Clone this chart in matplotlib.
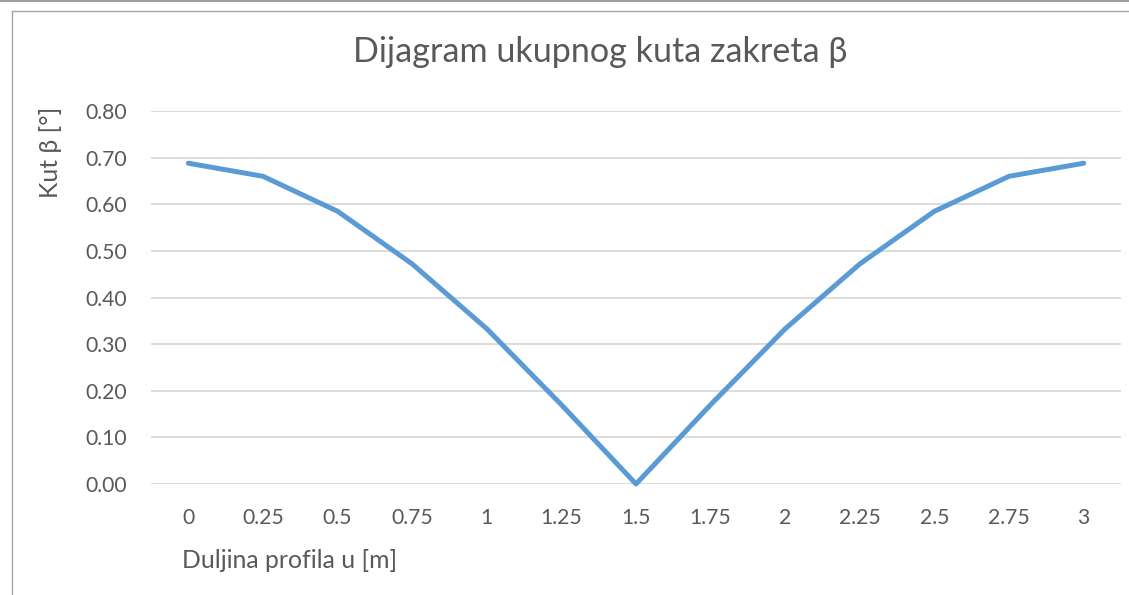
import matplotlib
matplotlib.use("Agg")
import matplotlib.pyplot as plt
from matplotlib.lines import Line2D

# data
x_labels = ["0", "0.25", "0.5", "0.75", "1", "1.25", "1.5",
            "1.75", "2", "2.25", "2.5", "2.75", "3"]
beta = [0.688, 0.660, 0.585, 0.472, 0.333, 0.170, 0.0,
        0.170, 0.333, 0.472, 0.585, 0.660, 0.688]
y_ticks = [0.0, 0.1, 0.2, 0.3, 0.4, 0.5, 0.6, 0.7, 0.8]

plt.rcParams["font.family"] = ["Lato", "DejaVu Sans"]
text_col = "#595959"
W, H = 1129, 595

fig = plt.figure(figsize=(W / 100, H / 100), dpi=100)
ax = fig.add_axes([151 / W, 1 - 484 / H, (1121 - 151) / W, (484 - 111) / H])

idx = list(range(len(x_labels)))
ax.plot(idx, beta, color="#5b9bd5", lw=3.6, solid_capstyle="round",
        solid_joinstyle="round", clip_on=False, zorder=3)

ax.set_xlim(-0.5, len(x_labels) - 0.5)
ax.set_ylim(0, 0.8)
ax.set_yticks(y_ticks)
ax.set_yticklabels([f"{v:.2f}" for v in y_ticks])
ax.set_xticks(idx)
ax.set_xticklabels(x_labels)
ax.tick_params(axis="both", length=0, labelsize=15.2, colors=text_col)
ax.tick_params(axis="y", pad=17)
ax.tick_params(axis="x", pad=17)
ax.grid(axis="y", color="#d9d9d9", lw=1.3)
ax.set_axisbelow(True)
for s in ax.spines.values():
    s.set_visible(False)

fig.text(600 / W, 1 - 52 / H, "Dijagram ukupnog kuta zakreta β",
         ha="center", va="center", fontsize=24.6, color=text_col)
fig.text(51 / W, 1 - 107 / H, "Kut β [°]", rotation=90, ha="center",
         va="top", fontsize=17.8, color=text_col)
fig.text(182 / W, 1 - 560 / H, "Duljina profila u [m]", ha="left",
         va="center", fontsize=17.8, color=text_col)

# chart frame (cropped) and top edge line
fig.add_artist(Line2D([0, 1], [1 - 0.5 / H, 1 - 0.5 / H], color="#8c8c8c", lw=1.2))
fig.add_artist(Line2D([12 / W, 1], [1 - 11 / H, 1 - 11 / H], color="#a6a6a6", lw=1.0))
fig.add_artist(Line2D([12 / W, 12 / W], [0, 1 - 11 / H], color="#a6a6a6", lw=1.0))

fig.savefig("out.png", dpi=100)
